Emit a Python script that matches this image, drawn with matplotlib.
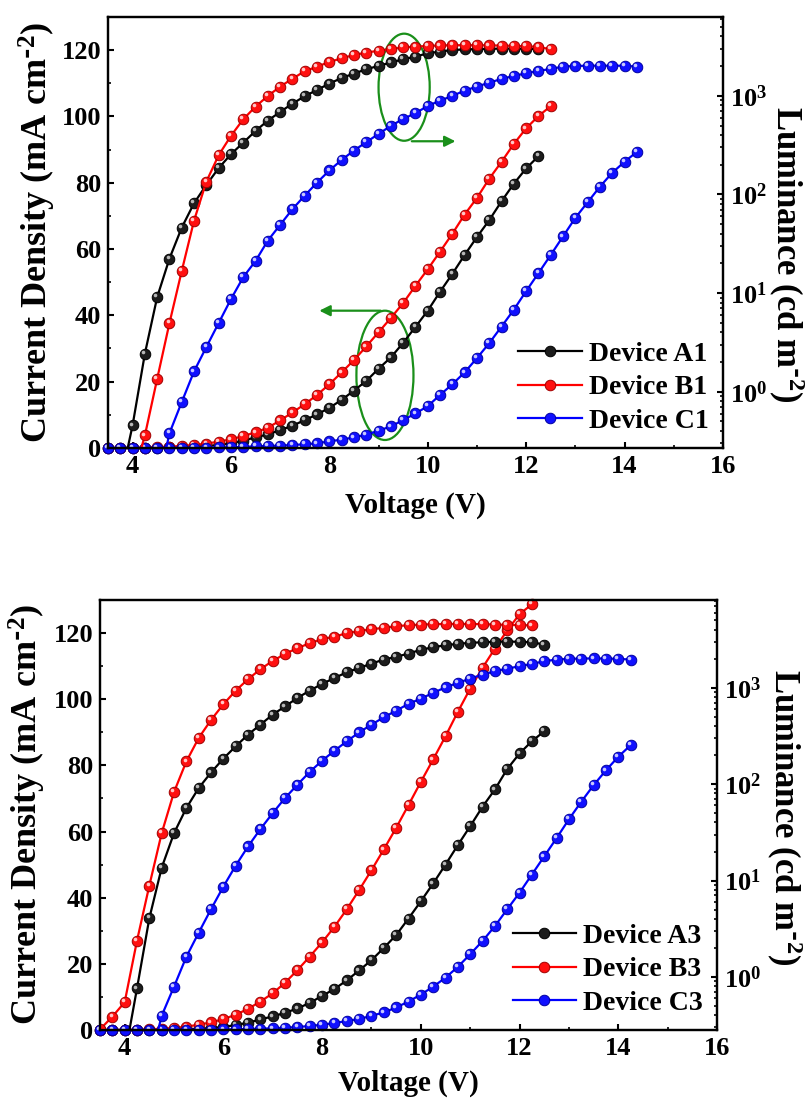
import numpy as np
import matplotlib
matplotlib.use('Agg')
import matplotlib.pyplot as plt
from matplotlib.patches import Ellipse
from matplotlib import transforms
from matplotlib.ticker import MultipleLocator, LogLocator, LogFormatterMathtext, NullFormatter

plt.rcParams['font.family'] = ['Liberation Serif', 'DejaVu Serif']
plt.rcParams['font.weight'] = 'bold'
plt.rcParams['axes.labelweight'] = 'bold'
plt.rcParams['mathtext.default'] = 'regular'

# voltage grid (V), 0.25 V steps
volts = [3.5, 3.75, 4.0, 4.25, 4.5, 4.75, 5.0, 5.25, 5.5, 5.75, 6.0, 6.25, 6.5, 6.75,
         7.0, 7.25, 7.5, 7.75, 8.0, 8.25, 8.5, 8.75, 9.0, 9.25, 9.5, 9.75, 10.0, 10.25,
         10.5, 10.75, 11.0, 11.25, 11.5, 11.75, 12.0, 12.25, 12.5, 12.75, 13.0, 13.25,
         13.5, 13.75, 14.0, 14.25]

# ---- top panel: devices A1 / B1 / C1 ----
labels_1 = ['Device A1', 'Device B1', 'Device C1']
# current density (mA cm-2), all start at 3.5 V
j_a1 = [0, 0, 0.02, 0.05, 0.1, 0.15, 0.25, 0.4, 0.6, 0.9, 1.4, 2.2, 3.2, 4.1, 5.4, 6.7,
        8.4, 10.1, 12.1, 14.5, 17.3, 20.2, 23.9, 27.3, 31.7, 36.5, 41.4, 47.1, 52.5,
        58.2, 63.6, 68.7, 74.4, 79.7, 84.3, 88.0]
j_b1 = [0, 0.02, 0.05, 0.1, 0.25, 0.4, 0.6, 0.9, 1.3, 1.9, 2.6, 3.6, 4.7, 6.1, 8.3,
        10.7, 13.2, 16.0, 19.2, 22.8, 26.5, 30.6, 34.9, 39.2, 43.7, 48.9, 53.9, 59.2,
        64.6, 70.4, 75.4, 81.2, 86.3, 91.7, 96.4, 100.1, 103.1]
j_c1 = [0, 0, 0, 0, 0.02, 0.04, 0.06, 0.08, 0.1, 0.15, 0.2, 0.3, 0.5, 0.6, 0.7, 0.9,
        1.1, 1.4, 2.0, 2.5, 3.2, 4.0, 5.2, 6.5, 8.4, 10.4, 12.6, 16.0, 19.2, 22.8, 27.1,
        31.6, 36.6, 41.7, 47.3, 52.7, 58.2, 63.8, 69.4, 74.1, 78.8, 83.0, 86.3, 89.3]
# luminance (cd m-2) with their start voltages
l_a1_start, l_b1_start, l_c1_start = 3.75, 4.0, 4.5
l_a1 = [0.12, 0.456, 2.43, 9.1, 22.4, 46.2, 81.6, 125, 185, 256, 335, 441, 561, 687,
        834, 991, 1148, 1330, 1518, 1679, 1861, 2010, 2180, 2348, 2497, 2703, 2806,
        2918, 2950, 2980, 3000, 3010, 3010, 3000, 2990]
l_b1 = [0.13, 0.36, 1.35, 4.97, 16.8, 54.4, 135, 250, 393, 579, 778, 998, 1240, 1494,
        1775, 1977, 2205, 2403, 2597, 2739, 2871, 2965, 3105, 3150, 3205, 3240, 3260,
        3260, 3260, 3250, 3230, 3210, 3180, 3130, 2965]
l_c1 = [0.1, 0.38, 0.787, 1.61, 2.84, 4.97, 8.69, 14.5, 21.2, 34.1, 49.2, 71, 97.5,
        132, 175, 224, 279, 339, 411, 496, 583, 667, 790, 894, 998, 1130, 1240, 1361,
        1483, 1591, 1694, 1787, 1874, 1977, 2010, 2020, 2020, 2020, 2020, 1977]

# ---- bottom panel: devices A3 / B3 / C3 ----
labels_3 = ['Device A3', 'Device B3', 'Device C3']
j_a3 = [0, 0, 0, 0.02, 0.05, 0.1, 0.15, 0.25, 0.4, 0.6, 0.9, 1.5, 2.2, 3.2, 4.1, 5.2,
        6.5, 8.2, 10.3, 12.4, 15.0, 18.0, 21.1, 24.8, 28.7, 33.7, 38.9, 44.3, 50.0,
        55.9, 61.6, 67.5, 72.7, 78.9, 83.6, 87.3, 90.3]
j_b3 = [0, 0.02, 0.05, 0.1, 0.2, 0.4, 0.6, 1.0, 1.6, 2.3, 3.3, 4.6, 6.4, 8.6, 11.1,
        14.3, 18.1, 22.2, 26.5, 31.2, 36.5, 42.3, 48.3, 54.6, 61.1, 68.0, 75.0, 81.8,
        88.8, 96.2, 103.2, 109.5, 115.3, 120.8, 125.7, 128.7]
j_c3 = [0, 0, 0, 0, 0, 0.02, 0.04, 0.06, 0.08, 0.1, 0.15, 0.2, 0.3, 0.4, 0.5, 0.7,
        0.9, 1.2, 1.6, 2.1, 2.7, 3.3, 4.3, 5.3, 6.8, 8.6, 10.7, 13.1, 15.8, 19.1, 22.9,
        26.9, 31.4, 36.5, 41.5, 47.0, 52.5, 58.0, 63.7, 69.0, 74.0, 78.5, 82.6, 86.1]
l_a3_start, l_b3_start, l_c3_start = 4.0, 3.5, 4.5
l_a3 = [0.15, 0.762, 4.07, 13.6, 31.0, 56.5, 91.1, 132, 184, 247, 326, 414, 526, 641,
        783, 933, 1094, 1262, 1444, 1603, 1778, 1957, 2088, 2261, 2470, 2630, 2754,
        2851, 2918, 2960, 2990, 3012, 2990, 2960, 2800]
l_b3 = [0.286, 0.387, 0.547, 2.38, 8.88, 31.0, 82.8, 172, 301, 463, 673, 933, 1225,
        1556, 1897, 2243, 2570, 2897, 3187, 3388, 3673, 3855, 4046, 4171, 4345, 4446,
        4508, 4560, 4580, 4580, 4580, 4560, 4520, 4480, 4460, 4430]
l_c3 = [0.12, 0.396, 0.794, 1.62, 2.88, 5.05, 8.66, 14.3, 22.6, 34.2, 50.1, 71.8, 98.7,
        134, 175, 222, 278, 344, 414, 493, 578, 679, 770, 883, 1009, 1122, 1242, 1368,
        1479, 1578, 1667, 1766, 1879, 1959, 1991, 2006, 2010, 2006, 1991, 1959]

colors = ['#000000', '#ff0000', '#0000ff']
faces = ['#1c1c1c', '#ff1010', '#1010ff']
edges = ['#000000', '#a00000', '#0000a0']
highs = ['#b8b8b8', '#ffc8c8', '#c8c8ff']
green = '#1a8f1a'

fig = plt.figure(figsize=(8.07, 10.99), dpi=100)


def v_from(start, n):
    i0 = volts.index(start)
    return volts[i0:i0 + n]


def balls(ax, x, y, k, clip=True, label=None):
    h, = ax.plot(x, y, '-', color=colors[k], lw=1.6, marker='o', ms=7.6,
                 mfc=faces[k], mec=edges[k], mew=0.7, label=label, clip_on=clip)
    off = transforms.ScaledTranslation(-1.3 / 72, 1.3 / 72, fig.dpi_scale_trans)
    ax.plot(x, y, ls='none', marker='o', ms=2.6, mfc=highs[k], mec='none',
            transform=ax.transData + off, clip_on=clip)
    return h


def panel(rect, names, jdata, ldata, lstarts, lum_lim, ylab_pos, rlab_pos, xlab_y):
    ax = fig.add_axes(rect)
    ax2 = ax.twinx()
    ax2.set_yscale('log')

    handles = []
    for k in range(3):
        x = volts[:len(jdata[k])]
        handles.append(balls(ax, x, jdata[k], k, clip=False, label=names[k]))
    for k in range(3):
        x = v_from(lstarts[k], len(ldata[k]))
        balls(ax2, x, ldata[k], k)

    ax.set_xlim(3.5, 16)
    ax.set_ylim(0, 130)
    ax2.set_ylim(*lum_lim)
    ax.xaxis.set_major_locator(MultipleLocator(2))
    ax.xaxis.set_minor_locator(MultipleLocator(1))
    ax.yaxis.set_major_locator(MultipleLocator(20))
    ax.yaxis.set_minor_locator(MultipleLocator(10))
    ax2.yaxis.set_major_locator(LogLocator(base=10))
    ax2.yaxis.set_major_formatter(LogFormatterMathtext())
    ax2.yaxis.set_minor_locator(LogLocator(base=10, subs=np.arange(2, 10)))
    ax2.yaxis.set_minor_formatter(NullFormatter())

    for a in (ax, ax2):
        a.tick_params(which='major', direction='in', length=4.5, width=1.5,
                      labelsize=19, pad=5)
        a.tick_params(which='minor', direction='in', length=2.5, width=1.2)
        for s in a.spines.values():
            s.set_linewidth(1.6)
    ax.tick_params(axis='x', top=False, which='both')
    ax.tick_params(axis='y', right=False, which='both')

    ax.set_xlabel('Voltage (V)', fontsize=21, va='center')
    ax.xaxis.set_label_coords(0.5, xlab_y)
    ax.set_ylabel(r'Current Density (mA cm$^{\text{-}2}$)', fontsize=26, va='center')
    ax.yaxis.set_label_coords(*ylab_pos)
    ax2.set_ylabel(r'Luminance (cd m$^{\text{-}2}$)', fontsize=25, rotation=270,
                   va='center')
    ax2.yaxis.set_label_coords(*rlab_pos)

    ax2.legend(handles, names, loc='lower right', bbox_to_anchor=(1.0, 0.0),
               frameon=False, fontsize=20, handlelength=2.3, handletextpad=0.25,
               labelspacing=0.3, borderaxespad=0.1)
    return ax, ax2


ax_top, ax_top2 = panel([0.1338, 0.5924, 0.762, 0.3922], labels_1,
                        [j_a1, j_b1, j_c1], [l_a1, l_b1, l_c1],
                        [l_a1_start, l_b1_start, l_c1_start],
                        (10 ** -0.57, 10 ** 3.80), (-0.115, 0.5), (1.103, 0.45), -0.132)

ax_bot, ax_bot2 = panel([0.1239, 0.0628, 0.7646, 0.3913], labels_3,
                        [j_a3, j_b3, j_c3], [l_a3, l_b3, l_c3],
                        [l_a3_start, l_b3_start, l_c3_start],
                        (10 ** -0.55, 10 ** 3.91), (-0.118, 0.5), (1.108, 0.495), -0.123)

# green guides on the top panel
ax_top.add_patch(Ellipse((9.52, 108.8), 1.04, 32.3, fill=False, ec=green, lw=1.6))
ax_top.annotate('', xy=(10.62, 92.5), xytext=(9.62, 92.5),
                arrowprops=dict(arrowstyle='-|>', color=green, lw=1.6, mutation_scale=16))
ax_top.add_patch(Ellipse((9.13, 21.9), 1.16, 39.0, fill=False, ec=green, lw=1.6))
ax_top.annotate('', xy=(7.74, 41.4), xytext=(9.1, 41.4),
                arrowprops=dict(arrowstyle='-|>', color=green, lw=1.6, mutation_scale=16))

fig.savefig('out.png', dpi=100)
